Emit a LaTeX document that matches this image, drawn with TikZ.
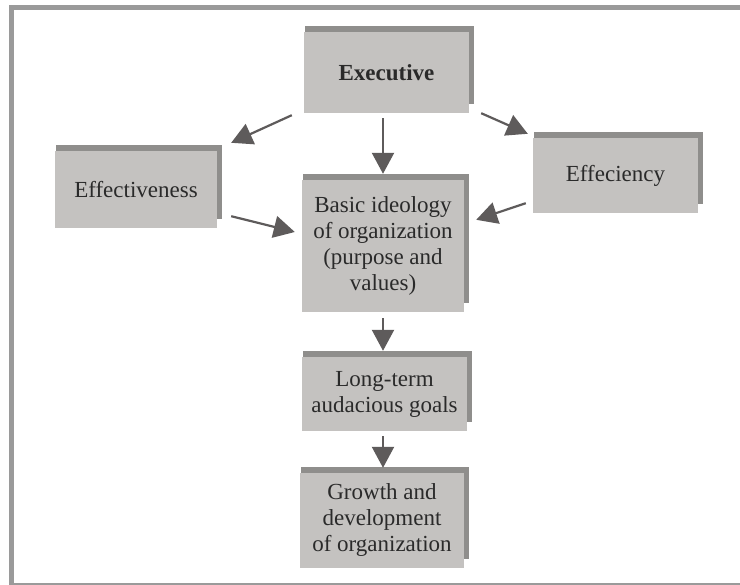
\documentclass[tikz,border=0pt]{standalone}
\usepackage{fontspec}
\setmainfont{Liberation Serif}
\usetikzlibrary{arrows.meta,calc,backgrounds}
\definecolor{boxgray}{HTML}{C4C2C0}
\definecolor{shadgray}{HTML}{8F8E8C}
\definecolor{arrgray}{HTML}{5E5B5B}
\definecolor{txtgray}{HTML}{2A2A2A}
\definecolor{framegray}{HTML}{9A9A9A}
\tikzset{
  box/.style={fill=boxgray, text=txtgray, align=center, inner sep=0pt,
    font=\fontsize{23}{26}\selectfont},
  conn/.style={draw=arrgray, line width=2.2pt,
    -{Triangle[length=21pt,width=22pt]}, fill=arrgray},
  frameline/.style={draw=framegray, line width=5pt}
}
\begin{document}
\begin{tikzpicture}[x=1pt,y=-1pt]
\clip (0,0) rectangle (740,585);
\draw[frameline] (11.5,7.5) rectangle (745,585.5);

\node[box, minimum width=165pt, minimum height=81pt] (ex) at (386.5,72.5) {\textbf{Executive}};
\node[box, minimum width=162pt, minimum height=77pt] (eff) at (136,189.5) {Effectiveness};
\node[box, minimum width=165pt, minimum height=75pt] (efc) at (615.5,175.5) {Effeciency};
\node[box, minimum width=162pt, minimum height=132pt] (basic) at (383,246) {Basic ideology\\of organization\\(purpose and\\values)};
\node[box, minimum width=165pt, minimum height=74pt] (lt) at (384.5,394) {Long-term\\audacious goals};
\node[box, minimum width=164pt, minimum height=95pt] (gr) at (382,520.5) {Growth and\\development\\of organization};

\begin{scope}[on background layer]
\fill[white] (0,0) rectangle (740,585);
\foreach \n in {ex,eff,efc,basic,lt,gr}
  \fill[shadgray] ([xshift=1.5pt,yshift=6pt]\n.north west) rectangle ([xshift=4.5pt,yshift=9pt]\n.south east);
\end{scope}

\draw[conn] ($(ex.south west)+(-12,2)$) -- ($(eff.north east)+(14,-8)$);
\draw[conn] ($(eff.south east)+(14,-12)$) -- ($(basic.west)+(-7,-14)$);
\draw[conn] ($(ex.south east)+(12,0)$) -- ($(efc.north west)+(-5,-4)$);
\draw[conn] ($(efc.south west)+(-7,-10)$) -- ($(basic.north east)+(12,40)$);
\draw[conn] ($(basic.north |- ex.south)+(0,5)$) -- ($(basic.north)+(0,-6)$);
\draw[conn] ($(basic.south)+(0,6)$) -- ($(basic.south |- lt.north)+(0,-6)$);
\draw[conn] ($(basic.south |- lt.south)+(0,5)$) -- ($(basic.south |- gr.north)+(0,-5)$);
\end{tikzpicture}
\end{document}
